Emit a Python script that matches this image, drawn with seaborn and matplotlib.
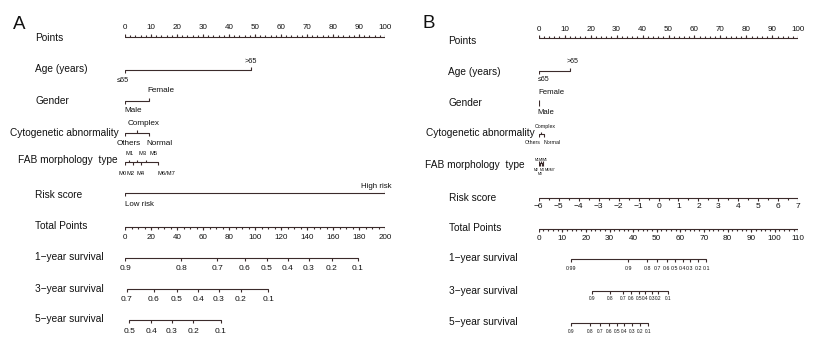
import numpy as np
import matplotlib.pyplot as plt
import seaborn as sns
from matplotlib.transforms import blended_transform_factory

# Estilo general
sns.set_theme(style="white")
plt.rcParams['font.family'] = ['Liberation Sans', 'DejaVu Sans']

LINE = "#3b2b2b"
LW = 0.8
MINUS = "\u2212"

# ---------------- Panel A (points 0-100, total points 0-200) ----------------
a_age_lab = ["≤65", ">65"]
a_age_pts = [0, 48.5]
a_gender_lab = ["Male", "Female"]
a_gender_pts = [0, 9.2]
a_cyto_lab = ["Others", "Complex", "Normal"]
a_cyto_pts = [0, 4.6, 9.2]
a_fab_lab = ["M0", "M1", "M2", "M3", "M4", "M5", "M6/M7"]
a_fab_pts = [0, 1.5, 3.1, 4.8, 6.3, 8.1, 12.7]
a_risk_lab = ["Low risk", "High risk"]
a_risk_pts = [0, 100]
a_total_max = 200
a_total_labels = [0, 20, 40, 60, 80, 100, 120, 140, 160, 180, 200]
a_surv1_prob = ["0.9", "0.8", "0.7", "0.6", "0.5", "0.4", "0.3", "0.2", "0.1"]
a_surv1_total = [0, 43.4, 70.8, 92.3, 109, 125, 141.5, 159, 179.2]
a_surv3_prob = ["0.7", "0.6", "0.5", "0.4", "0.3", "0.2", "0.1"]
a_surv3_total = [1.3, 22.3, 39.8, 56.4, 72.3, 89.2, 110.2]
a_surv5_prob = ["0.5", "0.4", "0.3", "0.2", "0.1"]
a_surv5_total = [3.3, 20, 35.9, 52.5, 73.6]

# ---------------- Panel B (points 0-100, total points 0-110) ----------------
b_age_lab = ["≤65", ">65"]
b_age_pts = [0, 12]
b_gender_lab = ["Male", "Female"]
b_gender_pts = [0, 0]
b_cyto_lab = ["Others", "Complex", "Normal"]
b_cyto_pts = [0, 1, 2]
b_fab_lab = ["M0", "M1", "M2", "M3", "M4", "M5", "M6/M7"]
b_fab_pts = [0, 0.3, 0.6, 0.9, 1.2, 1.5, 1.8]
b_risk_labels = [-6, -5, -4, -3, -2, -1, 0, 1, 2, 3, 4, 5, 6, 7]
b_total_max = 110
b_total_labels = [0, 10, 20, 30, 40, 50, 60, 70, 80, 90, 100, 110]
b_surv1_prob = ["0.99", "0.9", "0.8", "0.7", "0.6", "0.5", "0.4", "0.3", "0.2", "0.1"]
b_surv1_total = [13.7, 37.9, 46, 50.2, 54.2, 57.7, 61, 64.1, 67.6, 70.9]
b_surv3_prob = ["0.9", "0.8", "0.7", "0.6", "0.5", "0.4", "0.3", "0.2", "0.1"]
b_surv3_total = [22.5, 30.2, 35.6, 39.1, 42.6, 45.2, 47.9, 50.7, 54.7]
b_surv5_prob = ["0.9", "0.8", "0.7", "0.6", "0.5", "0.4", "0.3", "0.2", "0.1"]
b_surv5_total = [13.7, 21.7, 26, 29.8, 33.3, 36.3, 39.4, 42.9, 46.4]

row_names = ["Points", "Age (years)", "Gender", "Cytogenetic abnormality",
             "FAB morphology  type", "Risk score", "Total Points",
             "1" + MINUS + "year survival", "3" + MINUS + "year survival",
             "5" + MINUS + "year survival"]


def baseline(ax, x0, x1, y):
    sns.lineplot(x=[x0, x1], y=[y, y], ax=ax, color=LINE, linewidth=LW,
                 legend=False, estimator=None)


def ticks(ax, xs, y, dirs, length=3.0):
    for x, d in zip(xs, dirs):
        ax.plot([x, x], [y, y + d * length], color=LINE, lw=LW,
                solid_capstyle='butt')


def labels(ax, xs, ys, texts, fs):
    for x, yy, t in zip(xs, ys, texts):
        ax.text(x, yy, t, ha='center', va='center', fontsize=fs,
                color='#111111', clip_on=False)


def points_axis(ax, y, lab_y, fs):
    baseline(ax, 0, 100, y)
    ticks(ax, np.arange(0, 101, 2), y, [-1] * 51, 1.8)
    ticks(ax, np.arange(0, 101, 10), y, [-1] * 11, 3.0)
    labels(ax, np.arange(0, 101, 10), [lab_y] * 11,
           [str(v) for v in range(0, 101, 10)], fs)


def total_axis(ax, y, lab_y, tmax, lab_vals, minor_step, fs):
    k = 100.0 / tmax
    baseline(ax, 0, 100, y)
    minor = np.arange(0, tmax + 0.01, minor_step) * k
    ticks(ax, minor, y, [1] * len(minor), 1.8)
    major = np.array(lab_vals) * k
    ticks(ax, major, y, [1] * len(major), 3.0)
    labels(ax, major, [lab_y] * len(major), [str(v) for v in lab_vals], fs)


def surv_axis(ax, y, lab_y, tmax, totals, probs, fs):
    xs = np.array(totals) * 100.0 / tmax
    baseline(ax, xs.min(), xs.max(), y)
    ticks(ax, xs, y, [1] * len(xs), 3.0)
    labels(ax, xs, [lab_y] * len(xs), probs, fs)


fig = plt.figure(figsize=(8.21, 3.44), dpi=100)
fig.patch.set_facecolor('white')

# ======================= Panel A =======================
axA = fig.add_axes([125 / 821, 0, 260 / 821, 1])
tA = blended_transform_factory(fig.transFigure, axA.transData)

points_axis(axA, 37, 27.5, 5.8)

baseline(axA, a_age_pts[0], a_age_pts[1], 69.5)
ticks(axA, a_age_pts, 69.5, [1, -1])
labels(axA, [-1, 48.5], [80, 61.5], a_age_lab, 5.3)

baseline(axA, a_gender_pts[0], a_gender_pts[1], 101)
ticks(axA, a_gender_pts, 101, [1, -1])
labels(axA, [3.1, 13.8], [111, 91], a_gender_lab, 5.9)

baseline(axA, min(a_cyto_pts), max(a_cyto_pts), 133)
ticks(axA, a_cyto_pts, 133, [1, -1, 1])
labels(axA, [1.3, 7.3, 13.3], [143.3, 123.3, 143.3], a_cyto_lab, 5.9)

baseline(axA, min(a_fab_pts), max(a_fab_pts), 162)
ticks(axA, a_fab_pts, 162, [1, -1, 1, -1, 1, -1, 1], 2.5)
labels(axA, [-1, 1.8, 2.3, 6.7, 5.9, 11, 16.1],
       [173.5, 153.3, 173.5, 153.3, 173.5, 153.3, 173.5], a_fab_lab, 4.2)

baseline(axA, a_risk_pts[0], a_risk_pts[1], 193)
ticks(axA, a_risk_pts, 193, [1, -1])
labels(axA, [5.5, 96.8], [205, 186], a_risk_lab, 5.7)

total_axis(axA, 227, 237.3, a_total_max, a_total_labels, 5, 5.8)
surv_axis(axA, 257.7, 268.3, a_total_max, a_surv1_total, a_surv1_prob, 6.0)
surv_axis(axA, 289.3, 299.3, a_total_max, a_surv3_total, a_surv3_prob, 6.0)
surv_axis(axA, 320, 331.7, a_total_max, a_surv5_total, a_surv5_prob, 6.0)

a_row_x = [35, 35, 35, 10, 18.5, 35, 35, 35, 35, 35]
a_row_y = [38.3, 69.3, 101, 133.3, 160, 195, 226, 257, 289, 319.5]
for name, x, y in zip(row_names, a_row_x, a_row_y):
    axA.text(x / 821, y, name, transform=tA, ha='left', va='center',
             fontsize=7.3, color='#111111')
axA.text(19.5 / 821, 24.5, "A", transform=tA, ha='center', va='center',
         fontsize=13.5, color='#111111')

# ======================= Panel B =======================
axB = fig.add_axes([538.7 / 821, 0, 259.6 / 821, 1])
tB = blended_transform_factory(fig.transFigure, axB.transData)

points_axis(axB, 37.7, 29.3, 5.8)

baseline(axB, b_age_pts[0], b_age_pts[1], 70.7)
ticks(axB, b_age_pts, 70.7, [1, -1])
labels(axB, [2.0, 13.1], [79.3, 61.7], b_age_lab, 5.0)

ticks(axB, [b_gender_pts[0] + 0.3], 99.5, [1], 6.5)
labels(axB, [2.6, 4.9], [112, 93], b_gender_lab, 5.6)

baseline(axB, min(b_cyto_pts), max(b_cyto_pts), 134.3)
ticks(axB, b_cyto_pts, 134.3, [1, -1, 1], 2.2)
labels(axB, [-2.2, 2.4, 5.3], [142.3, 126.7, 142.3], b_cyto_lab, 3.8)

baseline(axB, min(b_fab_pts), max(b_fab_pts), 163.3)
ticks(axB, b_fab_pts, 163.3, [1, -1, 1, -1, 1, -1, 1], 2.2)
labels(axB, [0.5, -0.5, -1, 1.1, 1.3, 2.6, 4.4],
       [173.7, 159.7, 170.3, 159.7, 170.3, 159.7, 170.3], b_fab_lab, 2.5)

# Risk score in B is a continuous scale (-6 .. 7 -> 0 .. 100 points)
r0, r1 = b_risk_labels[0], b_risk_labels[-1]
risk_x = (np.array(b_risk_labels) - r0) / (r1 - r0) * 100
risk_half = (np.arange(r0, r1, 1) + 0.5 - r0) / (r1 - r0) * 100
baseline(axB, 0, 100, 198.3)
ticks(axB, risk_half, 198.3, [1] * len(risk_half), 1.8)
ticks(axB, risk_x, 198.3, [1] * len(risk_x), 3.0)
labels(axB, risk_x, [206.7] * len(risk_x),
       [str(v).replace("-", MINUS) for v in b_risk_labels], 6.0)

total_axis(axB, 229.3, 238.3, b_total_max, b_total_labels, 2, 5.9)
surv_axis(axB, 259.3, 269, b_total_max, b_surv1_total, b_surv1_prob, 3.8)
surv_axis(axB, 291, 298.6, b_total_max, b_surv3_total, b_surv3_prob, 3.4)
surv_axis(axB, 322.7, 331.7, b_total_max, b_surv5_total, b_surv5_prob, 3.4)

b_row_x = [448, 448, 448, 426, 425, 449.3, 449.3, 449.3, 449.3, 449.3]
b_row_y = [41, 71.7, 103.3, 133.3, 165, 197.7, 228, 258.3, 291, 321.7]
for name, x, y in zip(row_names, b_row_x, b_row_y):
    axB.text(x / 821, y, name, transform=tB, ha='left', va='center',
             fontsize=7.3, color='#111111')
axB.text(429 / 821, 24, "B", transform=tB, ha='center', va='center',
         fontsize=13.5, color='#111111')

for ax in (axA, axB):
    ax.set_xlim(0, 100)
    ax.set_ylim(344, 0)
    ax.axis('off')

fig.savefig("out.png", dpi=100, facecolor='white')
